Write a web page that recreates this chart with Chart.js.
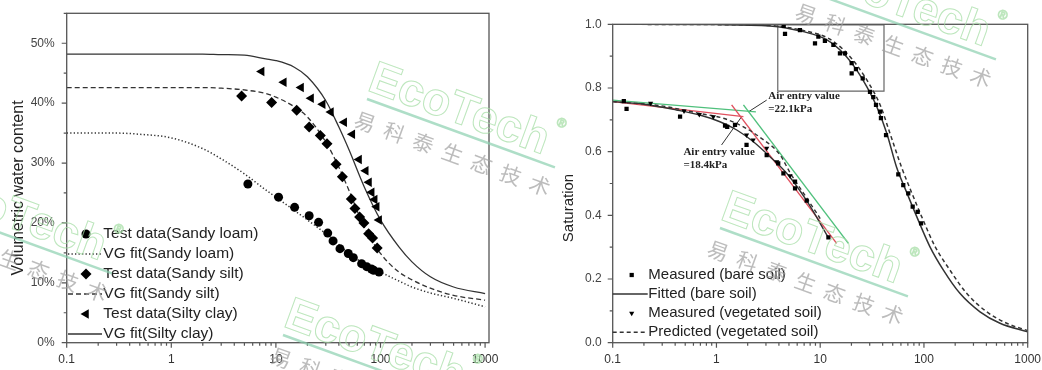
<!DOCTYPE html>
<html>
<head>
<meta charset="utf-8">
<title>Soil water retention curves</title>
<script src="https://cdn.jsdelivr.net/npm/chart.js@4.4.1/dist/chart.umd.min.js"></script>
<style>
  html, body { margin: 0; padding: 0; background: #fff; }
  #wrap { position: relative; width: 1042px; height: 370px; overflow: hidden; }
  #leftChart { position: absolute; left: 0; top: 0; }
  #rightChart { position: absolute; left: 520px; top: 0; }
</style>
</head>
<body>
<div id="wrap">
  <canvas id="leftChart" width="520" height="370"></canvas>
  <canvas id="rightChart" width="522" height="370"></canvas>
</div>
<script>
// shared log x axis
const xTickLabels = ['0.1', '1', '10', '100', '1000'];
const xMinorSteps = [2, 3, 4, 5, 6, 7, 8, 9];

// ---- left panel: volumetric water content (%)
const leftYTickLabels = ['0%', '10%', '20%', '30%', '40%', '50%'];

const loamX = [5.4, 10.6, 15.1, 20.8, 25.6, 31.3, 35.2, 41, 49.2, 55, 66, 73.8, 82, 86, 96.8];
const loamY = [26.5, 24.3, 22.6, 21.2, 20.1, 18.3, 17.0, 15.7, 14.9, 14.2, 13.2, 12.7, 12.3, 12.1, 11.8];
const siltX = [4.7, 9.1, 15.8, 20.8, 26.6, 30.8, 37.6, 43.2, 52.6, 57, 63.2, 69.5, 77, 84, 93];
const siltY = [41.2, 40.1, 38.8, 36.0, 34.6, 33.2, 29.8, 27.7, 24.0, 22.4, 21.0, 20.0, 18.2, 17.5, 15.8];
const clayX = [7.3, 11.9, 17.4, 21.7, 28, 33.6, 45, 53.8, 62.4, 72.3, 77.6, 82.4, 88, 92, 97];
const clayY = [45.3, 43.5, 42.6, 40.8, 39.8, 38.5, 36.8, 34.8, 30.6, 28.7, 26.8, 25.1, 23.9, 22.7, 20.5];

const vgX = [0.1, 0.3, 0.5, 1, 2, 3, 5, 8, 10, 15, 20, 30, 40, 50, 70, 100, 150, 200, 300, 500, 1000];
const loamFit = [35.0, 35.0, 34.8, 34.2, 32.4, 30.7, 28.2, 25.5, 24.3, 22.1, 20.5, 18.2, 16.4, 14.9, 13.2, 11.8, 10.3, 9.3, 8.3, 7.4, 6.0];
const siltFit = [42.6, 42.6, 42.6, 42.6, 42.6, 42.5, 42.2, 41.6, 41.0, 39.4, 37.7, 33.5, 29.3, 25.4, 19.3, 14.9, 11.8, 10.5, 9.1, 7.9, 7.1];
const clayFit = [48.2, 48.2, 48.2, 48.2, 48.2, 48.1, 48.0, 47.4, 47.1, 46.0, 44.4, 40.4, 36.0, 32.2, 26.0, 20.5, 16.0, 13.5, 11.0, 9.3, 8.2];

// ---- right panel: saturation
const rightYTickLabels = ['0.0', '0.2', '0.4', '0.6', '0.8', '1.0'];

const bareRightX = [4.45, 4.58, 6.38, 8.91, 9.6, 11.1, 13.4, 15.5, 17.3, 20.1, 20.1, 22.1, 25.7, 30.2, 32.5, 34.5, 37.7, 38.5, 43.1, 56.6, 63.2, 70.6, 77.9, 87, 93.8];
const bareRightY = [0.995, 0.970, 0.982, 0.940, 0.961, 0.948, 0.935, 0.909, 0.909, 0.878, 0.846, 0.859, 0.830, 0.788, 0.771, 0.747, 0.726, 0.705, 0.652, 0.529, 0.495, 0.469, 0.427, 0.411, 0.375];
const bareLeftX = [0.128, 0.136, 0.446, 1.21, 1.27, 1.51, 1.95, 3.05, 3.94, 4.42, 5.72, 5.72, 7.41, 12.0];
const bareLeftY = [0.759, 0.734, 0.71, 0.682, 0.678, 0.684, 0.621, 0.589, 0.563, 0.532, 0.506, 0.485, 0.446, 0.331];
const vegX = [0.232, 0.487, 0.684, 0.933, 1.95, 2.26, 3.05, 3.81, 5.12];
const vegY = [0.752, 0.728, 0.717, 0.71, 0.652, 0.637, 0.611, 0.568, 0.524];

const bareFitX = [0.1, 1, 3.28, 6.87, 11.6, 16.7, 22.5, 28.1, 35.1, 43.8, 54.6, 68.2, 85.2, 114, 154, 222, 347, 541, 1000];
const bareFitY = [1.0, 0.999, 0.995, 0.977, 0.951, 0.909, 0.856, 0.804, 0.741, 0.658, 0.55, 0.472, 0.396, 0.302, 0.228, 0.155, 0.097, 0.061, 0.034];
const vegPredX = [0.1, 1, 3.3, 7, 12, 17, 23, 30, 38, 47, 61, 76, 95, 128, 178, 258, 403, 628, 1000];
const vegPredY = [1.0, 0.999, 0.996, 0.98, 0.956, 0.918, 0.868, 0.81, 0.745, 0.658, 0.55, 0.472, 0.396, 0.302, 0.228, 0.155, 0.097, 0.061, 0.038];
const bareFitLX = [0.1, 0.2, 0.41, 0.69, 1.08, 1.57, 2.27, 3.28, 4.75, 7.4, 12];
const bareFitLY = [0.757, 0.749, 0.731, 0.715, 0.694, 0.668, 0.631, 0.584, 0.532, 0.446, 0.33];
const vegFitLX = [0.1, 0.29, 0.69, 1.16, 1.82, 2.63, 4.1, 5.1, 6.9, 10];
const vegFitLY = [0.757, 0.744, 0.72, 0.705, 0.678, 0.645, 0.59, 0.535, 0.47, 0.39];

// tangent lines for air entry value
const redFlatX = [0.1, 1.82], redFlatY = [0.757, 0.71];
const redDropX = [1.40, 14.4], redDropY = [0.747, 0.312];
const greenFlatX = [0.1, 2.4], greenFlatY = [0.762, 0.725];
const greenDropX = [1.82, 18.7], greenDropY = [0.747, 0.312];
const boxX = [3.9, 41.2, 41.2, 3.9, 3.9], boxY = [0.998, 0.998, 0.79, 0.79, 0.998];
const lead1X = [2.03, 3.05], lead1Y = [0.725, 0.762];
const lead2X = [1.75, 1.12], lead2Y = [0.71, 0.621];
const noteX = [3.16, 3.16, 0.48, 0.48];
const noteY = [0.773, 0.733, 0.60, 0.558];
const noteText = ['Air entry value', '=22.1kPa', 'Air entry value', '=18.4kPa'];

Chart.defaults.font.family = '"Liberation Sans", Arial, sans-serif';
Chart.defaults.color = '#333';

function pts(xs, ys) {
    return xs.map((x, i) => ({ x: x, y: ys[i] }));
}

function pointSet(label, data, style, radius, rotation, hidden) {
    return {
        label: label, data: data, showLine: false,
        pointStyle: style, pointRadius: radius, pointRotation: rotation || 0,
        pointBackgroundColor: '#000', pointBorderColor: '#000', pointBorderWidth: 0,
        hideInLegend: !!hidden
    };
}

function curveSet(label, data, dash, width, hidden) {
    return {
        label: label, data: data, showLine: true, pointRadius: 0,
        borderColor: '#333', borderWidth: width, borderDash: dash,
        cubicInterpolationMode: 'monotone', fill: false, hideInLegend: !!hidden
    };
}

function segSet(data, color, width) {
    return {
        label: '', data: data, showLine: true, pointRadius: 0,
        borderColor: color, borderWidth: width, tension: 0, hideInLegend: true
    };
}

function buildLogTicks(scale) {
    const ticks = [];
    xTickLabels.forEach((lab, i) => {
        const dec = Number(lab);
        ticks.push({ value: dec });
        if (i < xTickLabels.length - 1) {
            xMinorSteps.forEach(m => ticks.push({ value: dec * m }));
        }
    });
    scale.ticks = ticks;
}

// fixed axis boxes so the plot areas land where the original has them
function fixBox(size, vertical) {
    return s => {
        if (vertical) s.width = size; else s.height = size;
        s.paddingTop = 0;
        s.paddingBottom = 0;
        s.paddingLeft = 0;
        s.paddingRight = 0;
    };
}

function xScale(max) {
    return {
        type: 'logarithmic', min: 0.1, max: max,
        grid: { display: false, drawTicks: false },
        border: { display: false },
        ticks: {
            autoSkip: false, maxRotation: 0, padding: 10, color: '#333', font: { size: 12 },
            callback: v => xTickLabels.find(l => Number(l) === v) || ''
        },
        afterBuildTicks: buildLogTicks,
        afterFit: fixBox(27.3, false)
    };
}

// ticks: long at labelled values, short elsewhere, plus the plot frame
const axisTicks = {
    id: 'axisTicks',
    afterDraw(chart) {
        const ctx = chart.ctx;
        const area = chart.chartArea;
        const xs = chart.scales.x, ys = chart.scales.y;
        ctx.save();
        ctx.strokeStyle = '#555';
        ctx.lineWidth = 1.2;
        ctx.beginPath();
        xs.ticks.forEach(t => {
            const px = xs.getPixelForValue(t.value);
            if (px < area.left - 0.5 || px > area.right + 0.5) return;
            ctx.moveTo(px, area.bottom);
            ctx.lineTo(px, area.bottom + (t.label ? 5 : 3));
        });
        ys.ticks.forEach(t => {
            const py = ys.getPixelForValue(t.value);
            ctx.moveTo(area.left, py);
            ctx.lineTo(area.left - (t.label ? 5 : 3), py);
        });
        ctx.stroke();
        ctx.lineWidth = 1.3;
        ctx.strokeRect(area.left, area.top, area.right - area.left, area.bottom - area.top);
        ctx.restore();
    }
};

const innerLegend = {
    id: 'innerLegend',
    afterDraw(chart, args, opts) {
        const ctx = chart.ctx;
        const area = chart.chartArea;
        ctx.save();
        ctx.font = opts.size + 'px "Liberation Sans", Arial, sans-serif';
        ctx.textBaseline = 'middle';
        ctx.fillStyle = '#222';
        let row = 0;
        chart.data.datasets.forEach(ds => {
            if (ds.hideInLegend) return;
            const y = area.top + opts.top + row * opts.rowHeight;
            const x0 = area.left + opts.sampleLeft;
            if (ds.showLine) {
                ctx.strokeStyle = ds.borderColor;
                ctx.lineWidth = ds.borderWidth;
                ctx.setLineDash(ds.borderDash || []);
                ctx.beginPath();
                ctx.moveTo(x0, y);
                ctx.lineTo(x0 + opts.sampleWidth, y);
                ctx.stroke();
                ctx.setLineDash([]);
            } else {
                ctx.fillStyle = '#000';
                Chart.helpers.drawPoint(ctx, {
                    pointStyle: ds.pointStyle, rotation: ds.pointRotation,
                    radius: ds.pointRadius, borderWidth: 0
                }, area.left + opts.markerX, y);
            }
            ctx.fillStyle = '#222';
            ctx.fillText(ds.label, area.left + opts.textLeft, y);
            row++;
        });
        ctx.restore();
    }
};

const axisTitle = {
    id: 'axisTitle',
    afterDraw(chart, args, opts) {
        const ctx = chart.ctx;
        ctx.save();
        ctx.translate(opts.x, opts.y);
        ctx.rotate(-Math.PI / 2);
        ctx.font = opts.size + 'px "Liberation Sans", Arial, sans-serif';
        ctx.fillStyle = '#222';
        ctx.textAlign = 'center';
        ctx.textBaseline = 'middle';
        ctx.fillText(opts.text, 0, 0);
        ctx.restore();
    }
};

const notes = {
    id: 'notes',
    afterDatasetsDraw(chart, args, opts) {
        if (!opts.show) return;
        const ctx = chart.ctx;
        const xs = chart.scales.x, ys = chart.scales.y;
        ctx.save();
        ctx.font = 'bold 11px "Liberation Serif", "Times New Roman", serif';
        ctx.fillStyle = '#222';
        ctx.textBaseline = 'middle';
        noteText.forEach((t, i) => {
            ctx.fillText(t, xs.getPixelForValue(noteX[i]), ys.getPixelForValue(noteY[i]));
        });
        ctx.restore();
    }
};

// publisher watermark laid over both panels
const markSpots = [[-76, 205], [367, 99], [283, 335], [720, 228], [808, -9]];
const watermark = {
    id: 'watermark',
    afterDraw(chart, args, opts) {
        const ctx = chart.ctx;
        markSpots.forEach(p => {
            ctx.save();
            ctx.translate(p[0] - opts.offsetX, p[1]);
            ctx.rotate(20 * Math.PI / 180);
            ctx.strokeStyle = 'rgba(165,222,165,0.75)';
            ctx.lineWidth = 1;
            ctx.font = 'bold 46px "Liberation Sans", Arial, sans-serif';
            ctx.strokeText('EcoTech', -4, -8);
            const w = ctx.measureText('EcoTech').width;
            ctx.font = '13px "Liberation Sans", Arial, sans-serif';
            ctx.strokeText('®', w - 2, -40);
            ctx.strokeStyle = 'rgba(140,208,175,0.7)';
            ctx.lineWidth = 2.5;
            ctx.beginPath();
            ctx.moveTo(0, 0);
            ctx.lineTo(200, 0);
            ctx.stroke();
            ctx.fillStyle = 'rgba(160,160,160,0.7)';
            ctx.font = '21px "Noto Sans CJK SC", sans-serif';
            ctx.textAlign = 'center';
            ctx.textBaseline = 'middle';
            Array.from('易科泰生态技术').forEach((ch, i) => ctx.fillText(ch, 6 + i * 31, 22));
            ctx.restore();
        });
    }
};

const commonPlugins = [axisTicks, innerLegend, axisTitle, notes, watermark];

new Chart(document.getElementById('leftChart'), {
    type: 'scatter',
    data: {
        datasets: [
            pointSet('Test data(Sandy loam)', pts(loamX, loamY), 'circle', 4.5),
            curveSet('VG fit(Sandy loam)', pts(vgX, loamFit), [1.3, 2.2], 1.5),
            pointSet('Test data(Sandy silt)', pts(siltX, siltY), 'rectRot', 5.5),
            curveSet('VG fit(Sandy silt)', pts(vgX, siltFit), [5, 3], 1.3),
            pointSet('Test data(Silty clay)', pts(clayX, clayY), 'triangle', 5.5, -90),
            curveSet('VG fit(Silty clay)', pts(vgX, clayFit), [], 1.3)
        ]
    },
    options: {
        responsive: false,
        animation: false,
        events: [],
        layout: { padding: { top: 13.3, right: 31, bottom: 0, left: 0 } },
        scales: {
            x: xScale(1090),
            y: {
                type: 'linear', min: 0, max: 55,
                grid: { display: false, drawTicks: false },
                border: { display: false },
                ticks: {
                    stepSize: 5, padding: 12, color: '#444', font: { size: 12 },
                    callback: v => (v % 10 === 0 ? leftYTickLabels[v / 10] : '')
                },
                afterFit: fixBox(66.7, true)
            }
        },
        plugins: {
            legend: { display: false },
            tooltip: { enabled: false },
            innerLegend: { size: 15.5, top: 220.7, rowHeight: 20, sampleLeft: 1.3, sampleWidth: 34, markerX: 19.3, textLeft: 36.6 },
            axisTitle: { text: 'Volumetric water content', x: 19, y: 188, size: 16 },
            notes: { show: false },
            watermark: { offsetX: 0 }
        }
    },
    plugins: commonPlugins
});

new Chart(document.getElementById('rightChart'), {
    type: 'scatter',
    data: {
        datasets: [
            pointSet('Measured (bare soil)', pts(bareRightX, bareRightY).concat(pts(bareLeftX, bareLeftY)), 'rect', 3),
            curveSet('Fitted (bare soil)', pts(bareFitX, bareFitY), [], 1.5),
            pointSet('Measured (vegetated soil)', pts(vegX, vegY), 'triangle', 3, 180),
            curveSet('Predicted (vegetated soil)', pts(vegPredX, vegPredY), [4, 3], 1.5),
            curveSet('', pts(bareFitLX, bareFitLY), [], 1.4, true),
            curveSet('', pts(vegFitLX, vegFitLY), [4, 3], 1.4, true),
            segSet(pts(redFlatX, redFlatY), '#e0505e', 1.4),
            segSet(pts(redDropX, redDropY), '#e0505e', 1.4),
            segSet(pts(greenFlatX, greenFlatY), '#4fc07c', 1.4),
            segSet(pts(greenDropX, greenDropY), '#4fc07c', 1.4),
            segSet(pts(boxX, boxY), '#666', 1.2),
            segSet(pts(lead1X, lead1Y), '#333', 1),
            segSet(pts(lead2X, lead2Y), '#333', 1)
        ]
    },
    options: {
        responsive: false,
        animation: false,
        events: [],
        layout: { padding: { top: 24.3, right: 14.3, bottom: 0, left: 0 } },
        scales: {
            x: xScale(1000),
            y: {
                type: 'linear', min: 0, max: 1,
                grid: { display: false, drawTicks: false },
                border: { display: false },
                ticks: {
                    stepSize: 0.1, padding: 11, color: '#444', font: { size: 12 },
                    callback: v => {
                        const k = Math.round(v * 10);
                        return k % 2 === 0 ? rightYTickLabels[k / 2] : '';
                    }
                },
                afterFit: fixBox(92.7, true)
            }
        },
        plugins: {
            legend: { display: false },
            tooltip: { enabled: false },
            innerLegend: { size: 15, top: 250.7, rowHeight: 19.1, sampleLeft: 0, sampleWidth: 35, markerX: 19, textLeft: 35.6 },
            axisTitle: { text: 'Saturation', x: 49, y: 208, size: 15 },
            notes: { show: true },
            watermark: { offsetX: 520 }
        }
    },
    plugins: commonPlugins
});
</script>
</body>
</html>
